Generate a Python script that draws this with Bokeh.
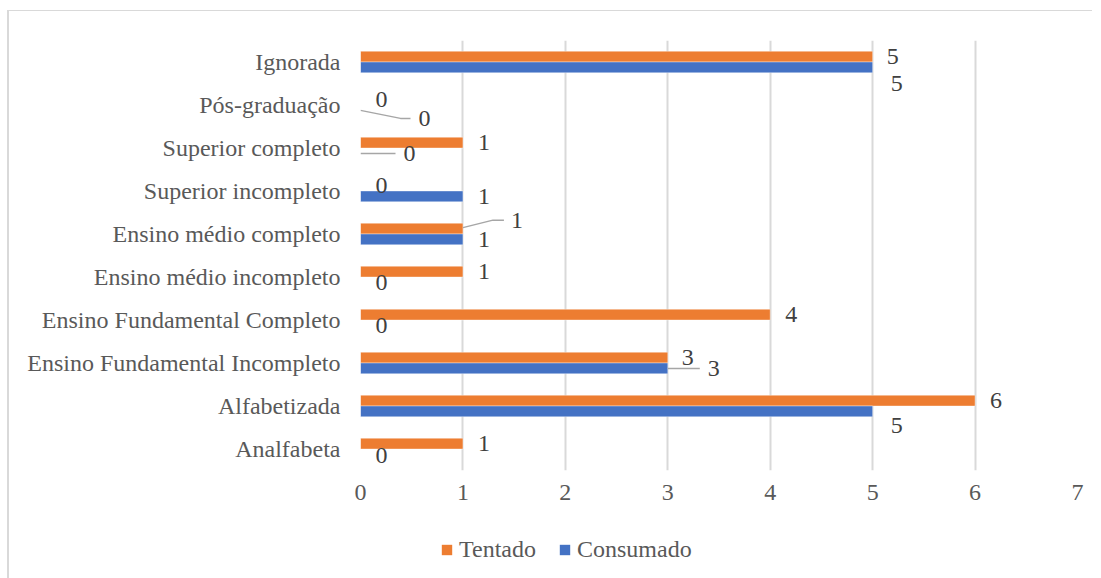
from bokeh.plotting import figure
from bokeh.layouts import column
from bokeh.models import FactorRange, Legend, LegendItem, ColumnDataSource, FixedTicker
from bokeh.transform import dodge
from bokeh.core.properties import value
from bokeh.embed import file_html
from bokeh.resources import INLINE

# ---- data (bottom to top) ----
categories = ["Analfabeta", "Alfabetizada", "Ensino Fundamental Incompleto",
              "Ensino Fundamental Completo", "Ensino médio incompleto",
              "Ensino médio completo", "Superior incompleto", "Superior completo",
              "Pós-graduação", "Ignorada"]
tentado = [1, 6, 3, 4, 1, 1, 0, 1, 0, 5]
consumado = [0, 5, 3, 0, 0, 1, 1, 0, 0, 5]
series = ["Tentado", "Consumado"]
x_ticks = [0, 1, 2, 3, 4, 5, 6, 7]

# ---- label placement (pixels, style only) ----
t_dx = [21, 21, 20, 21, 21, 54, 21, 21, 21, 20]
t_dy = [0, 0, 0, 0, 0, -8.5, 0, 0, 0, 0]
c_dx = [21, 24, 46, 21, 21, 21, 21, 49, 64, 24]
c_dy = [1.5, 14.5, 0, 0.5, 0, 0, 0, 0, 8.5, 16.5]

ORANGE = "#ED7D31"
BLUE = "#4472C4"
GRID = "#d9d9d9"
TXT = "#595959"
FONT = "'Liberation Serif', 'Times New Roman', serif"
FS = "24px"

W = 1083
FL, FT, FW, FH = 351, 29, 717, 430
H1 = 510
H2 = 57
XMAX = 7

p = figure(width=W, height=H1, y_range=FactorRange(*categories, range_padding=0),
           x_range=(0, XMAX), output_backend="svg", toolbar_location=None,
           min_border_left=FL, min_border_right=W - FL - FW,
           min_border_top=FT, min_border_bottom=H1 - FT - FH,
           outline_line_color=None, background_fill_color="white",
           border_fill_color="white")

src = ColumnDataSource(dict(cat=categories, t=tentado, c=consumado,
                            tl=[str(v) for v in tentado], cl=[str(v) for v in consumado],
                            tdx=t_dx, tdy=t_dy, cdx=c_dx, cdy=c_dy))

BH = 0.25
r_t = p.hbar(y=dodge("cat", BH / 2, range=p.y_range), right="t", left=0, height=BH,
             source=src, fill_color=ORANGE, line_color="white", line_alpha=0.5,
             line_width=0.75)
r_c = p.hbar(y=dodge("cat", -BH / 2, range=p.y_range), right="c", left=0, height=BH,
             source=src, fill_color=BLUE, line_color="white", line_alpha=0.5,
             line_width=0.75)

# leader lines (pixel offsets converted via the frame scale)
px_x = FW / XMAX
px_y = FH / len(categories)
def yc(cat, off):
    return categories.index(cat) + 0.5 + off
def lx(v, d):
    return v + d / px_x
def ly(cat, off, d):
    return yc(cat, off) - d / px_y

leaders_x, leaders_y = [], []
i = categories.index("Pós-graduação")
leaders_x.append([lx(consumado[i], 0), lx(consumado[i], 40), lx(consumado[i], 50)])
leaders_y.append([ly("Pós-graduação", -BH / 2, 0), ly("Pós-graduação", -BH / 2, 8), ly("Pós-graduação", -BH / 2, 8)])
i = categories.index("Superior completo")
leaders_x.append([lx(consumado[i], 0), lx(consumado[i], 35)])
leaders_y.append([ly("Superior completo", -BH / 2, 0), ly("Superior completo", -BH / 2, 0)])
i = categories.index("Ensino médio completo")
leaders_x.append([lx(tentado[i], 0), lx(tentado[i], 30), lx(tentado[i], 41)])
leaders_y.append([ly("Ensino médio completo", BH / 2, -1), ly("Ensino médio completo", BH / 2, -8.5), ly("Ensino médio completo", BH / 2, -8.5)])
i = categories.index("Ensino Fundamental Incompleto")
leaders_x.append([lx(consumado[i], 0), lx(consumado[i], 32)])
leaders_y.append([ly("Ensino Fundamental Incompleto", -BH / 2, 0), ly("Ensino Fundamental Incompleto", -BH / 2, 0)])
p.multi_line(leaders_x, leaders_y, line_color="#a6a6a6", line_width=1.5)

common = dict(text_font=value(FONT), text_font_size=FS, text_color="#404040",
              text_align="center", text_baseline="middle", source=src)
p.text(x="t", y=dodge("cat", BH / 2, range=p.y_range), text="tl",
       x_offset="tdx", y_offset="tdy", **common)
p.text(x="c", y=dodge("cat", -BH / 2, range=p.y_range), text="cl",
       x_offset="cdx", y_offset="cdy", **common)

# axes
p.xaxis.ticker = FixedTicker(ticks=x_ticks)
for ax in (p.xaxis[0], p.yaxis[0]):
    ax.axis_line_color = None
    ax.major_tick_line_color = None
    ax.minor_tick_line_color = None
    ax.major_tick_out = 0
    ax.major_tick_in = 0
    ax.major_label_text_font = FONT
    ax.major_label_text_font_size = FS
    ax.major_label_text_color = TXT
p.xaxis.major_label_standoff = 14
p.yaxis.major_label_standoff = 20
p.xgrid.ticker = FixedTicker(ticks=x_ticks)
p.xgrid.grid_line_color = GRID
p.xgrid.grid_line_width = 2
p.ygrid.grid_line_color = None

# ---- legend strip ----
q = figure(width=W, height=H2, x_range=(0, 1), y_range=(0, 1),
           output_backend="svg", toolbar_location=None,
           min_border=0, outline_line_color=None, border_fill_color="white",
           background_fill_color="white")
q.axis.visible = False
q.grid.visible = False
lt = q.hbar(y=[0.5], left=[0], right=[0], height=0.1, fill_color=ORANGE, line_color=None)
lc = q.hbar(y=[0.5], left=[0], right=[0], height=0.1, fill_color=BLUE, line_color=None)
legend = Legend(items=[LegendItem(label=series[0], renderers=[lt]),
                       LegendItem(label=series[1], renderers=[lc])],
                orientation="horizontal", location=(80, 15),
                padding=0, margin=0, spacing=22, label_standoff=6,
                glyph_width=13, glyph_height=13,
                label_text_font=FONT, label_text_font_size=FS,
                label_text_color=TXT, border_line_color=None,
                background_fill_alpha=0)
q.add_layout(legend, "center")

layout = column(p, q, spacing=0)
layout.margin = (10, 0, 0, 7)
layout.styles = {"border-top": "1px solid #d9d9d9", "border-left": "2px solid #d9d9d9"}

open("out.html", "w").write(file_html(layout, INLINE))
